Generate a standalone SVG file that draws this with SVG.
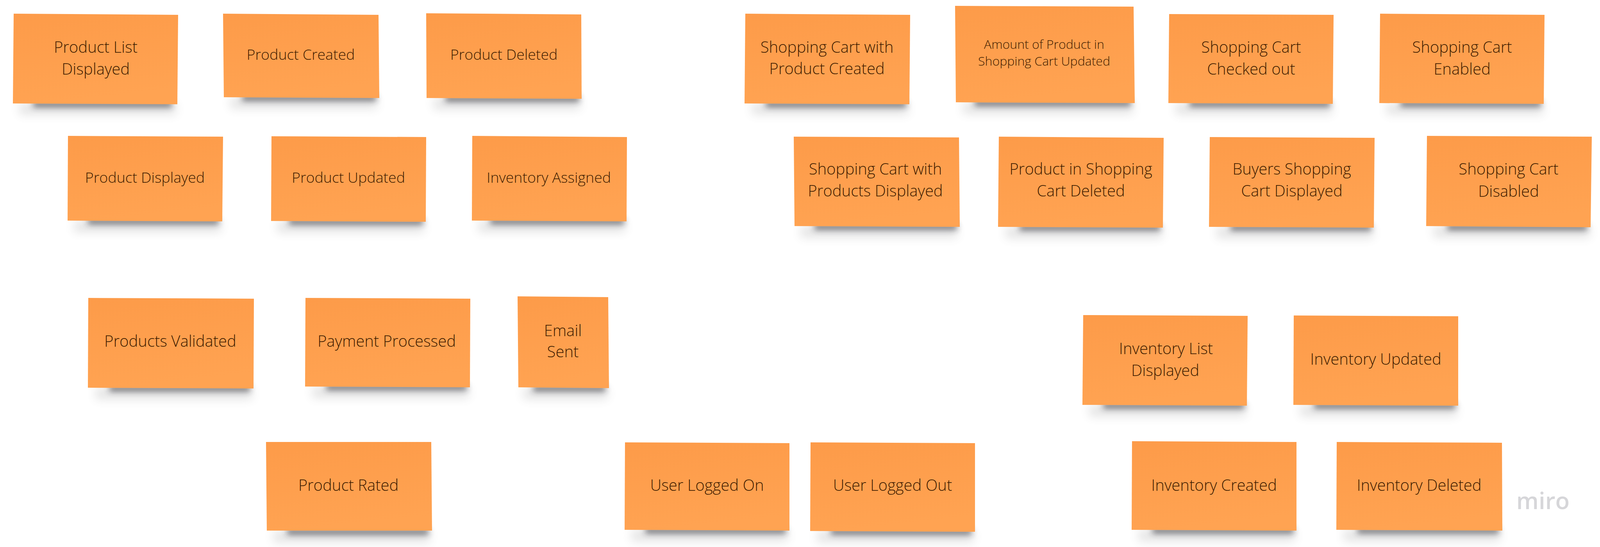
<svg xmlns="http://www.w3.org/2000/svg" width="4111" height="1401" viewBox="0 0 4111 1401">
<style>
.s{fill:url(#g)}
.a{fill:#2c2c30;opacity:.68;filter:url(#b1)}
.c{fill:#555;opacity:.16;filter:url(#b2)}
text{font-family:"Open Sans","Noto Sans","Liberation Sans",sans-serif;font-weight:300;fill:#3f1d00;text-anchor:middle;font-size:40px}
.d{font-size:37.5px}
.t{font-size:32px}
.m{font-size:60px;font-weight:600;fill:#d6d6d9}
</style>
<defs>
<linearGradient id="g" x1="0" y1="0" x2="0.2" y2="1"><stop offset="0" stop-color="#fd9b49"/><stop offset="1" stop-color="#ffa352"/></linearGradient>
<filter id="b1" x="-10%" y="-150%" width="120%" height="400%"><feGaussianBlur stdDeviation="8"/></filter>
<filter id="b2" x="-10%" y="-100%" width="120%" height="300%"><feGaussianBlur stdDeviation="12"/></filter>
</defs>
<rect width="4111" height="1401" fill="#fff"/>
<g id="connectors"></g>
<g id="n01"><rect class="c" x="50" y="265" width="400" height="28"/><rect class="a" x="85" y="260" width="355" height="14"/><polygon class="s" points="35,35 456,38 454,267 33,265"/><text x="245" y="135">Product List</text><text x="245" y="191">Displayed</text></g>
<g id="n02"><rect class="c" x="590" y="250" width="375" height="28"/><rect class="a" x="620" y="244" width="343" height="14"/><polygon class="s" points="571,35 969,38 971,251 573,249"/><text class="d" x="770" y="153">Product Created</text></g>
<g id="n03"><rect class="c" x="1110" y="252" width="375" height="28"/><rect class="a" x="1140" y="246" width="343" height="14"/><polygon class="s" points="1091,34 1488,37 1489,253 1092,251"/><text class="d" x="1290" y="153">Product Deleted</text></g>
<g id="n04"><rect class="c" x="190" y="566" width="375" height="28"/><rect class="a" x="225" y="560" width="335" height="14"/><polygon class="s" points="174,348 571,350 569,567 173,565"/><text class="d" x="371" y="468">Product Displayed</text></g>
<g id="n05"><rect class="c" x="710" y="567" width="375" height="28"/><rect class="a" x="740" y="561" width="343" height="14"/><polygon class="s" points="695,349 1091,351 1090,568 694,566"/><text class="d" x="892" y="468">Product Updated</text></g>
<g id="n06"><rect class="c" x="1225" y="566" width="375" height="28"/><rect class="a" x="1255" y="560" width="343" height="14"/><polygon class="s" points="1209,348 1605,351 1604,567 1208,565"/><text class="d" x="1405" y="468">Inventory Assigned</text></g>
<g id="n07"><rect class="c" x="1925" y="265" width="400" height="28"/><rect class="a" x="1960" y="260" width="360" height="14"/><polygon class="s" points="1908,35 2330,38 2328,267 1906,265"/><text x="2117" y="135">Shopping Cart with</text><text x="2117" y="190">Product Created</text></g>
<g id="n08"><rect class="c" x="2465" y="263" width="435" height="28"/><rect class="a" x="2495" y="257" width="400" height="14"/><polygon class="s" points="2445,15 2902,17 2905,264 2447,262"/><text class="t" x="2673" y="125">Amount of Product in</text><text class="t" x="2673" y="168">Shopping Cart Updated</text></g>
<g id="n09"><rect class="c" x="3010" y="265" width="400" height="28"/><rect class="a" x="3045" y="259" width="360" height="14"/><polygon class="s" points="2993,36 3414,38 3412,266 2991,264"/><text x="3203" y="135">Shopping Cart</text><text x="3203" y="191">Checked out</text></g>
<g id="n10"><rect class="c" x="3550" y="265" width="400" height="28"/><rect class="a" x="3585" y="259" width="360" height="14"/><polygon class="s" points="3533,35 3954,38 3952,266 3531,264"/><text x="3743" y="135">Shopping Cart</text><text x="3743" y="191">Enabled</text></g>
<g id="n11"><rect class="c" x="2050" y="580" width="400" height="28"/><rect class="a" x="2085" y="574" width="365" height="14"/><polygon class="s" points="2032,350 2455,352 2457,581 2034,579"/><text x="2241" y="447">Shopping Cart with</text><text x="2241" y="503">Products Displayed</text></g>
<g id="n12"><rect class="c" x="2575" y="582" width="400" height="28"/><rect class="a" x="2610" y="576" width="360" height="14"/><polygon class="s" points="2557,350 2979,353 2977,583 2555,581"/><text x="2767" y="447">Product in Shopping</text><text x="2767" y="503">Cart Deleted</text></g>
<g id="n13"><rect class="c" x="3115" y="582" width="400" height="28"/><rect class="a" x="3150" y="576" width="360" height="14"/><polygon class="s" points="3097,351 3519,353 3517,583 3095,581"/><text x="3307" y="447">Buyers Shopping</text><text x="3307" y="503">Cart Displayed</text></g>
<g id="n14"><rect class="c" x="3670" y="580" width="400" height="28"/><rect class="a" x="3705" y="575" width="358" height="14"/><polygon class="s" points="3653,348 4075,350 4072,582 3651,579"/><text x="3862" y="447">Shopping Cart</text><text x="3862" y="504">Disabled</text></g>
<g id="n15"><rect class="c" x="245" y="994" width="400" height="28"/><rect class="a" x="280" y="988" width="360" height="14"/><polygon class="s" points="226,763 650,765 649,995 225,993"/><text x="436" y="888">Products Validated</text></g>
<g id="n16"><rect class="c" x="800" y="991" width="400" height="28"/><rect class="a" x="835" y="985" width="360" height="14"/><polygon class="s" points="782,763 1204,765 1203,992 781,990"/><text x="990" y="888">Payment Processed</text></g>
<g id="n17"><rect class="c" x="1340" y="994" width="215" height="28"/><rect class="a" x="1365" y="988" width="185" height="14"/><polygon class="s" points="1325,759 1557,761 1559,994 1327,992"/><text x="1441" y="861">Email</text><text x="1441" y="915">Sent</text></g>
<g id="n18"><rect class="c" x="700" y="1361" width="400" height="28"/><rect class="a" x="735" y="1355" width="362" height="14"/><polygon class="s" points="681,1132 1104,1132 1106,1359 683,1359"/><text x="892" y="1257">Product Rated</text></g>
<g id="n19"><rect class="c" x="1617" y="1358" width="400" height="28"/><rect class="a" x="1652" y="1352" width="360" height="14"/><polygon class="s" points="1600,1133 2021,1135 2021,1359 1599,1357"/><text x="1810" y="1257">User Logged On</text></g>
<g id="n20"><rect class="c" x="2092" y="1361" width="400" height="28"/><rect class="a" x="2127" y="1355" width="360" height="14"/><polygon class="s" points="2075,1133 2496,1135 2496,1362 2074,1360"/><text x="2285" y="1257">User Logged Out</text></g>
<g id="n21"><rect class="c" x="2789" y="1038" width="400" height="28"/><rect class="a" x="2824" y="1032" width="362" height="14"/><polygon class="s" points="2773,807 3194,809 3192,1039 2771,1037"/><text x="2985" y="907">Inventory List</text><text x="2983" y="963">Displayed</text></g>
<g id="n22"><rect class="c" x="3329" y="1038" width="400" height="28"/><rect class="a" x="3364" y="1032" width="362" height="14"/><polygon class="s" points="3312,808 3733,810 3733,1039 3311,1037"/><text x="3522" y="934">Inventory Updated</text></g>
<g id="n23"><rect class="c" x="2915" y="1358" width="400" height="28"/><rect class="a" x="2950" y="1352" width="362" height="14"/><polygon class="s" points="2898,1130 3319,1132 3319,1359 2897,1357"/><text x="3108" y="1257">Inventory Created</text></g>
<g id="n24"><rect class="c" x="3440" y="1358" width="400" height="28"/><rect class="a" x="3475" y="1352" width="362" height="14"/><polygon class="s" points="3422,1132 3845,1134 3846,1359 3421,1357"/><text x="3633" y="1257">Inventory Deleted</text></g>
<text class="m" x="3950" y="1304">miro</text>
</svg>
